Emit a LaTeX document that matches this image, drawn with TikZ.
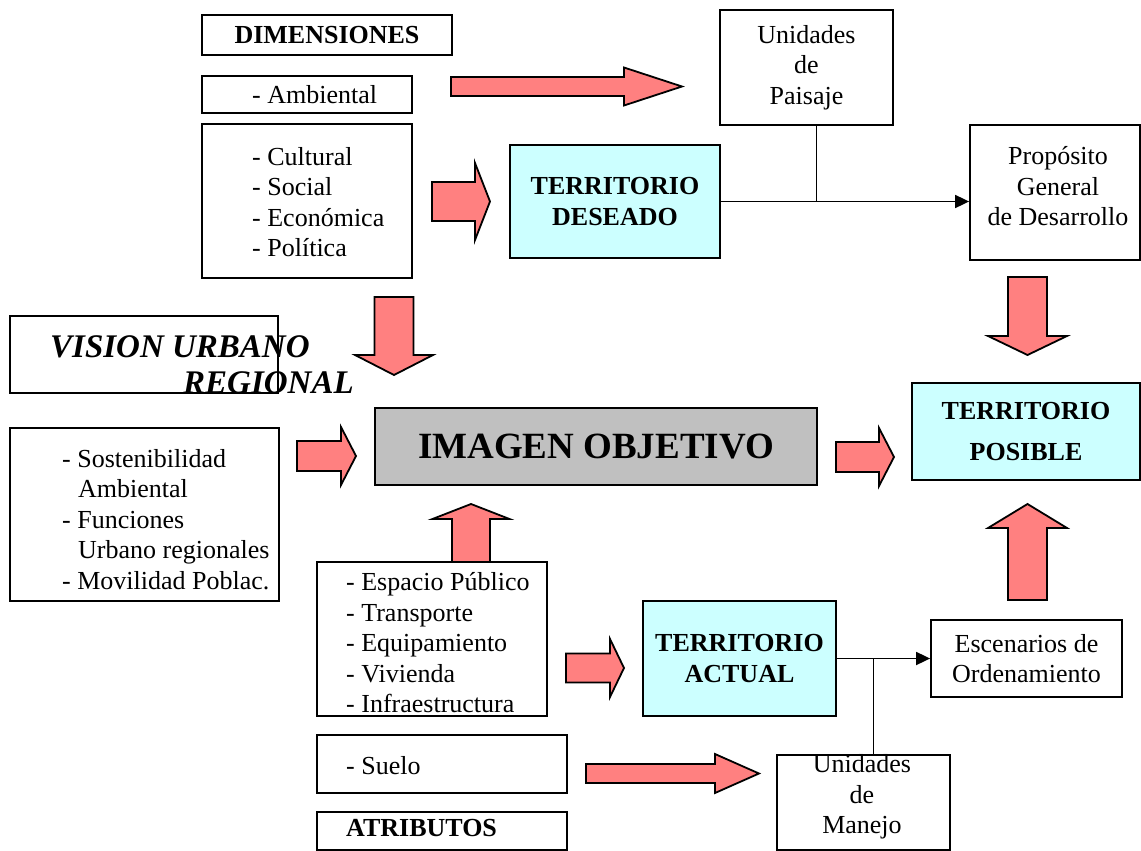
\documentclass[tikz,border=0pt]{standalone}
\usepackage{fontspec}
\setmainfont{Liberation Serif}
\usepackage{tikz}
\usetikzlibrary{positioning}
\usetikzlibrary{arrows.meta}
\usepackage{xcolor}

\definecolor{arrowpink}{HTML}{FF8080}
\definecolor{terrcyan}{HTML}{CCFFFF}
\definecolor{imggray}{HTML}{C0C0C0}

\newcommand{\boxfont}{\fontsize{26}{30.5}\selectfont}
% block arrows: start, head start, tip, centre, half shaft, half head
\newcommand{\harrow}[6]{\draw[fatarrow] ({#1},{#4-#5}) -- ({#2},{#4-#5}) -- ({#2},{#4-#6}) -- ({#3},{#4}) -- ({#2},{#4+#6}) -- ({#2},{#4+#5}) -- ({#1},{#4+#5}) -- cycle;}
\newcommand{\varrow}[6]{\draw[fatarrow] ({#4-#5},{#1}) -- ({#4-#5},{#2}) -- ({#4-#6},{#2}) -- ({#4},{#3}) -- ({#4+#6},{#2}) -- ({#4+#5},{#2}) -- ({#4+#5},{#1}) -- cycle;}

\tikzset{
  box/.style={draw, line width=1.8pt, inner sep=0pt, align=center, font=\boxfont},
  terrbox/.style={box, fill=terrcyan, font=\boxfont\bfseries},
  fatarrow/.style={draw, fill=arrowpink, line width=1.8pt},
  listtxt/.style={anchor=west, inner sep=0pt, align=left, font=\boxfont},
  midtxt/.style={inner sep=0pt, align=center, font=\boxfont},
  link/.style={line width=1.8pt, -{Triangle[length=14pt,width=13pt]}}
}

\begin{document}
\begin{tikzpicture}[x=1pt, y=-1pt]
\useasboundingbox (0,0) rectangle (1141,851);

\begin{scope}{
% dimensiones
\node[box, minimum width=250, minimum height=40, font=\boxfont\bfseries] (dim) at (327,35) {DIMENSIONES};
\node[box, minimum width=210, minimum height=37] (amb) at (307,94.5) {};
\node[listtxt] (ambtxt) at (252,94.5) {- Ambiental};
\node[box, minimum width=210, minimum height=154] (cult) at (307,201) {};
\node[listtxt] (culttxt) at (252,202) {- Cultural\\- Social\\- Económica\\- Política};

\node[box, minimum width=173, minimum height=115] (paisaje) at (806.5,67.5) {Unidades\\de\\Paisaje};
\node[terrbox, minimum width=210, minimum height=113] (deseado) at (615,201.5) {TERRITORIO\\DESEADO};
\node[box, minimum width=170, minimum height=135] (proposito) at (1055,192.5) {};
\node[midtxt] (propositotxt) at (1058,186.5) {Propósito\\General\\de Desarrollo};

\harrow{451}{624}{682}{86.5}{9.5}{19}
\harrow{432}{475}{490}{201.5}{19.5}{38.5}
\varrow{297}{355}{375}{394}{19.5}{39}
\varrow{277}{336}{355}{1027.5}{19.5}{39.5}

\draw[line width=1.8pt] ([xshift=10]paisaje.south) -- ([xshift=10]paisaje.south |- deseado.east);
\draw[link] (deseado.east) -- (deseado.east -| proposito.west);
} \end{scope}

\begin{scope}{
% vision e imagen objetivo
\node[box, minimum width=268, minimum height=77] (vision) at (144,354.5) {};
\node[anchor=base west, inner sep=0pt, font=\fontsize{33}{36}\selectfont\bfseries\itshape] (visiontxt) at (50,357) {VISION URBANO};
\node[anchor=base west, inner sep=0pt, font=\fontsize{33}{36}\selectfont\bfseries\itshape] (regionaltxt) at (183,393) {REGIONAL};

\node[box, fill=imggray, minimum width=442, minimum height=77, font=\fontsize{37}{40}\selectfont\bfseries] (imagen) at (596,446.5) {IMAGEN OBJETIVO};
\node[terrbox, minimum width=228, minimum height=97] (posible) at (1026,431.5) {TERRITORIO\\[10pt]POSIBLE};

\node[box, minimum width=269, minimum height=173] (sost) at (144.5,514.5) {};
\node[listtxt] (sosttxt) at (62,519.5) {- Sostenibilidad\\\hspace*{16pt}Ambiental\\- Funciones\\\hspace*{16pt}Urbano regionales\\- Movilidad Poblac.};

\harrow{297}{341}{356}{456}{15}{29}
\harrow{836}{879}{894}{457}{15}{29}
} \end{scope}

\begin{scope}{
% atributos
\varrow{562}{519}{504}{471}{19}{38.5}
\varrow{600}{528}{504}{1027.5}{19.5}{39.5}

\node[box, minimum width=230, minimum height=154] (espacio) at (432,639) {};
\node[listtxt] (espaciotxt) at (346,643) {- Espacio Público\\- Transporte\\- Equipamiento\\- Vivienda\\- Infraestructura};
\node[terrbox, minimum width=193, minimum height=115] (actual) at (739.5,658.5) {TERRITORIO\\ACTUAL};
\node[box, minimum width=191, minimum height=77] (escenarios) at (1026.5,658.5) {Escenarios de\\Ordenamiento};

\node[box, minimum width=250, minimum height=58] (suelo) at (442,764) {};
\node[listtxt] (suelotxt) at (346,766) {- Suelo};
\node[box, minimum width=173, minimum height=95] (manejo) at (863.5,802.5) {};
\node[midtxt] (manejotxt) at (862,797) {Unidades\\de\\Manejo};
\node[box, minimum width=250, minimum height=38] (atrib) at (442,831) {};
\node[listtxt, font=\boxfont\bfseries] (atribtxt) at (346,828) {ATRIBUTOS};

\harrow{566}{610}{624}{668}{14.5}{29}
\harrow{586}{715}{759}{773.5}{9.5}{19.5}

\draw[line width=1.8pt] ([xshift=10]manejo.north) -- ([xshift=10]manejo.north |- actual.east);
\draw[link] (actual.east) -- (escenarios.west);
} \end{scope}

\end{tikzpicture}
\end{document}
